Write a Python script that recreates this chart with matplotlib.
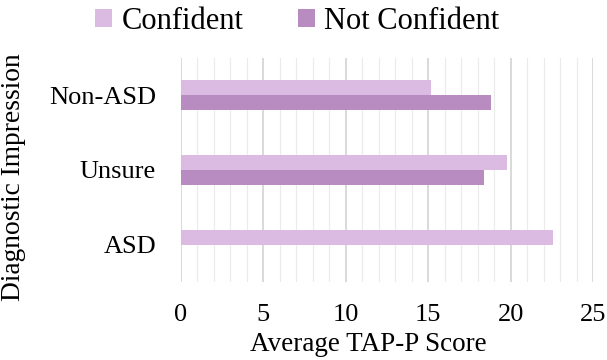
import matplotlib.pyplot as plt
import numpy as np

plt.rcParams['font.family'] = ['Liberation Serif', 'DejaVu Serif']

categories = ["ASD", "Unsure", "Non-ASD"]
confident = [22.6, 19.8, 15.2]
not_confident = [0, 18.4, 18.8]

col_conf = "#DCBBE2"
col_notconf = "#B88CC0"

fig = plt.figure(figsize=(6.07, 3.6), dpi=100)
ax = fig.add_axes([0.298, 0.217, 0.679, 0.622])

y = np.arange(len(categories))
h = 0.2
ax.barh(y + h / 2, confident, height=h, color=col_conf, label="Confident", zorder=3)
ax.barh(y - h / 2, not_confident, height=h, color=col_notconf, label="Not Confident", zorder=3)

ax.set_xlim(0, 25)
ax.set_ylim(-0.5, 2.5)
ax.set_xticks(range(0, 26, 5))
ax.set_xticks(range(0, 26), minor=True)
ax.set_yticks(y)
ax.set_yticklabels(categories)

ax.grid(axis='x', which='minor', color='#EBEBEB', linewidth=0.8, zorder=0)
ax.grid(axis='x', which='major', color='#D3D3D3', linewidth=1.2, zorder=1)
ax.tick_params(axis='both', which='both', length=0)
ax.tick_params(axis='y', labelsize=19, pad=18)
ax.tick_params(axis='x', labelsize=19, pad=16)
for s in ax.spines.values():
    s.set_visible(False)

ax.set_xlabel("Average TAP-P Score", fontsize=19.5)
ax.xaxis.set_label_coords(0.454, -0.225)
ax.set_ylabel("Diagnostic Impression", fontsize=19.8)
ax.yaxis.set_label_coords(-0.375, 0.47)

fig.legend(loc='upper center', bbox_to_anchor=(0.49, 1.058), ncol=2, frameon=False,
           fontsize=22, handlelength=0.55, handleheight=0.55, handletextpad=0.3,
           columnspacing=1.8)

fig.savefig("out.png", dpi=100)
